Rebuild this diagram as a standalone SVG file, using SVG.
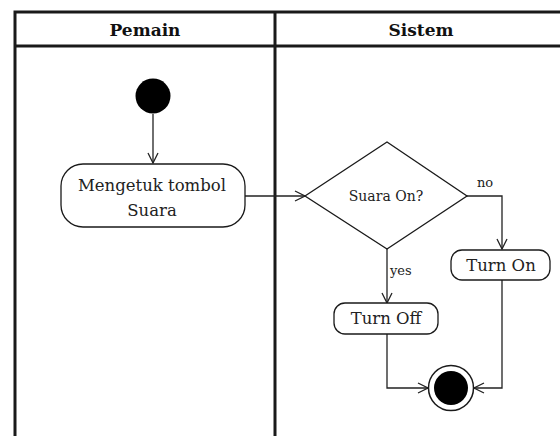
<svg xmlns="http://www.w3.org/2000/svg" width="560" height="436" viewBox="0 0 560 436">
  <style>
    .lane { fill: none; stroke: #1a1a1a; stroke-width: 3; }
    .node { fill: #ffffff; stroke: #1a1a1a; stroke-width: 1.3; }
    .edge { fill: none; stroke: #222222; stroke-width: 1.3; }
    text { font-family: "DejaVu Serif", "Liberation Serif", serif; fill: #222; }
    .hdr { font-size: 17px; font-weight: bold; fill: #111; text-anchor: middle; }
    .lbl { font-size: 16.5px; text-anchor: middle; }
    .small { font-size: 13px; }
  </style>
  <defs>
    <marker id="open" viewBox="0 0 12 12" refX="11" refY="6" markerWidth="12" markerHeight="12" markerUnits="userSpaceOnUse" orient="auto">
      <path d="M1,1 L11,6 L1,11" fill="none" stroke="#222" stroke-width="1.3"/>
    </marker>
  </defs>
  <rect width="560" height="436" fill="#ffffff"/>

  <!-- swimlanes -->
  <g id="lanes">
    <path class="lane" d="M15,440 V12 H565 M15,46 H565 M275,12 V440"/>
    <text class="hdr" x="145" y="36">Pemain</text>
    <text class="hdr" x="421" y="36">Sistem</text>
  </g>

  <!-- connectors -->
  <g id="connectors">
    <path class="edge" d="M153,114 V163" marker-end="url(#open)"/>
    <path class="edge" d="M245,196 H305" marker-end="url(#open)"/>
    <path class="edge" d="M467,196 H502 V249" marker-end="url(#open)"/>
    <path class="edge" d="M387,249 V303" marker-end="url(#open)"/>
    <path class="edge" d="M387,334 V388 H428" marker-end="url(#open)"/>
    <path class="edge" d="M502,280 V388 H474" marker-end="url(#open)"/>
    <text class="small" x="477" y="187">no</text>
    <text class="small" x="390" y="275">yes</text>
  </g>

  <g id="start">
    <circle cx="153" cy="96" r="17.5" fill="#000"/>
  </g>

  <g id="tap-sound">
    <rect class="node" x="61" y="164" width="184" height="63" rx="22" ry="22"/>
    <text class="lbl" x="152" y="191">Mengetuk tombol</text>
    <text class="lbl" x="152" y="216">Suara</text>
  </g>

  <g id="sound-on">
    <polygon class="node" points="305,196 387,142 467,196 387,249"/>
    <text class="lbl" x="386" y="201" style="font-size:14px">Suara On?</text>
  </g>

  <g id="turn-on">
    <rect class="node" x="451" y="250" width="99" height="30" rx="11" ry="11"/>
    <text class="lbl" x="501" y="271">Turn On</text>
  </g>

  <g id="turn-off">
    <rect class="node" x="334" y="303" width="104" height="31" rx="11" ry="11"/>
    <text class="lbl" x="386" y="324">Turn Off</text>
  </g>

  <g id="end">
    <circle cx="451" cy="388" r="22.5" fill="#fff" stroke="#1a1a1a" stroke-width="1.5"/>
    <circle cx="451" cy="388" r="17" fill="#000"/>
  </g>
</svg>
